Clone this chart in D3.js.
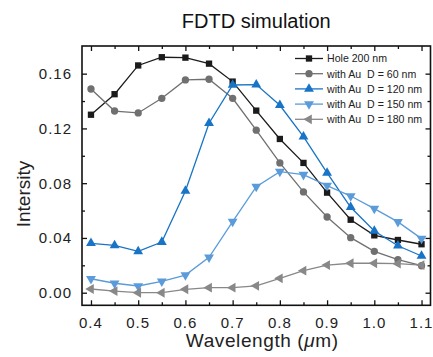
<!DOCTYPE html>
<html>
<head>
<meta charset="utf-8">
<script src="https://cdn.jsdelivr.net/npm/d3@7"></script>
<style>
  html, body { margin: 0; padding: 0; background: #fff; }
  svg { display: block; font-family: "Liberation Sans", Arial, sans-serif; }
</style>
</head>
<body>
<svg id="chart" width="433" height="357"></svg>
<script>
// Wavelength samples (µm)
const wavelengths = [0.40, 0.45, 0.50, 0.55, 0.60, 0.65, 0.70, 0.75, 0.80, 0.85, 0.90, 0.95, 1.00, 1.05, 1.10];

// Simulated intensity for each structure
const hole200 = [0.130, 0.145, 0.166, 0.172, 0.1717, 0.1673, 0.1542, 0.133, 0.1123, 0.0948, 0.0731, 0.0533, 0.0419, 0.0385, 0.0354];
const au60    = [0.1488, 0.1327, 0.1313, 0.142, 0.1554, 0.1559, 0.142, 0.1187, 0.0948, 0.0736, 0.0553, 0.0402, 0.0302, 0.0241, 0.0197];
const au120   = [0.0361, 0.0346, 0.0302, 0.037, 0.0743, 0.1238, 0.1517, 0.152, 0.1369, 0.114, 0.0875, 0.0624, 0.0451, 0.0343, 0.0268];
const au150   = [0.0102, 0.0069, 0.0049, 0.0083, 0.0129, 0.0259, 0.0519, 0.0775, 0.0884, 0.0862, 0.0782, 0.0706, 0.0614, 0.0517, 0.0395];
const au180   = [0.0027, 0.0012, 0.0, 0.0, 0.0025, 0.0037, 0.0037, 0.005, 0.0105, 0.0161, 0.0202, 0.0215, 0.0215, 0.0212, 0.0202];

const seriesNames = ["Hole 200 nm", "with Au  D = 60 nm", "with Au  D = 120 nm", "with Au  D = 150 nm", "with Au  D = 180 nm"];

const xTicks = [0.4, 0.5, 0.6, 0.7, 0.8, 0.9, 1.0, 1.1];
const xMinor = [0.45, 0.55, 0.65, 0.75, 0.85, 0.95, 1.05];
const yTicks = [0.00, 0.04, 0.08, 0.12, 0.16];
const yMinor = [0.02, 0.06, 0.10, 0.14];

const series = [
  { name: seriesNames[0], values: hole200, color: "#1b1b1b", symbol: d3.symbolSquare,   size: 40, rotate: 0 },
  { name: seriesNames[1], values: au60,    color: "#707070", symbol: d3.symbolCircle,   size: 42, rotate: 0 },
  { name: seriesNames[2], values: au120,   color: "#1874c6", symbol: d3.symbolTriangle, size: 42, rotate: 0 },
  { name: seriesNames[3], values: au150,   color: "#5b9bd9", symbol: d3.symbolTriangle, size: 42, rotate: 180 },
  { name: seriesNames[4], values: au180,   color: "#888888", symbol: d3.symbolTriangle, size: 42, rotate: -90 }
];

const svg = d3.select("#chart");
const plot = { left: 82, right: 430.5, top: 46, bottom: 305.3 };

const x = d3.scaleLinear().domain([0.381, 1.119]).range([plot.left, plot.right]);
const y = d3.scaleLinear().domain([-0.0092, 0.1802]).range([plot.bottom, plot.top]);

// Title
svg.append("text")
  .attr("x", (plot.left + plot.right) / 2)
  .attr("y", 28)
  .attr("text-anchor", "middle")
  .attr("font-size", 20)
  .attr("fill", "#111")
  .text("FDTD simulation");

// Inward ticks on all four sides
const tickSize = 5, minorSize = 3;

function styleAxis(g) {
  g.select(".domain").remove();
  g.selectAll("line").attr("stroke", "#111").attr("stroke-width", 1.3);
}

svg.append("g").attr("transform", `translate(0,${plot.bottom})`)
  .call(d3.axisTop(x).tickValues(xTicks).tickSize(tickSize).tickFormat(""))
  .call(styleAxis);
svg.append("g").attr("transform", `translate(0,${plot.bottom})`)
  .call(d3.axisTop(x).tickValues(xMinor).tickSize(minorSize).tickFormat(""))
  .call(styleAxis);
svg.append("g").attr("transform", `translate(0,${plot.top})`)
  .call(d3.axisBottom(x).tickValues(xTicks).tickSize(tickSize).tickFormat(""))
  .call(styleAxis);
svg.append("g").attr("transform", `translate(0,${plot.top})`)
  .call(d3.axisBottom(x).tickValues(xMinor).tickSize(minorSize).tickFormat(""))
  .call(styleAxis);
svg.append("g").attr("transform", `translate(${plot.left},0)`)
  .call(d3.axisRight(y).tickValues(yTicks).tickSize(tickSize).tickFormat(""))
  .call(styleAxis);
svg.append("g").attr("transform", `translate(${plot.left},0)`)
  .call(d3.axisRight(y).tickValues(yMinor).tickSize(minorSize).tickFormat(""))
  .call(styleAxis);
svg.append("g").attr("transform", `translate(${plot.right},0)`)
  .call(d3.axisLeft(y).tickValues(yTicks).tickSize(tickSize).tickFormat(""))
  .call(styleAxis);
svg.append("g").attr("transform", `translate(${plot.right},0)`)
  .call(d3.axisLeft(y).tickValues(yMinor).tickSize(minorSize).tickFormat(""))
  .call(styleAxis);

// Tick labels
svg.append("g").selectAll("text").data(xTicks).join("text")
  .attr("x", d => x(d))
  .attr("y", 328)
  .attr("text-anchor", "middle")
  .attr("font-size", 15)
  .attr("letter-spacing", 1)
  .attr("fill", "#222")
  .text(d => d3.format(".1f")(d));

svg.append("g").selectAll("text").data(yTicks).join("text")
  .attr("x", 72)
  .attr("y", d => y(d))
  .attr("dy", "0.36em")
  .attr("text-anchor", "end")
  .attr("font-size", 15)
  .attr("letter-spacing", 1)
  .attr("fill", "#222")
  .text(d => d3.format(".2f")(d));

// Axis titles
const xTitle = svg.append("text")
  .attr("x", (plot.left + plot.right) / 2 + 6)
  .attr("y", 347)
  .attr("text-anchor", "middle")
  .attr("font-size", 19)
  .attr("letter-spacing", 0.6)
  .attr("fill", "#222");
xTitle.append("tspan").text("Wavelength (");
xTitle.append("tspan").attr("font-style", "italic").text("μ");
xTitle.append("tspan").text("m)");

svg.append("text")
  .attr("transform", "translate(30,194) rotate(-90)")
  .attr("text-anchor", "middle")
  .attr("font-size", 19)
  .attr("fill", "#222")
  .text("Intersity");

// Series lines and markers
const line = d3.line().x((d, i) => x(wavelengths[i])).y(d => y(d));

series.forEach(s => {
  const g = svg.append("g");
  g.append("path")
    .datum(s.values)
    .attr("fill", "none")
    .attr("stroke", s.color)
    .attr("stroke-width", 1.3)
    .attr("d", line);
  g.selectAll("path.pt").data(s.values).join("path")
    .attr("class", "pt")
    .attr("transform", (d, i) => `translate(${x(wavelengths[i])},${y(d)}) rotate(${s.rotate})`)
    .attr("d", d3.symbol().type(s.symbol).size(s.size))
    .attr("fill", s.color);
});

// Plot frame
svg.append("rect")
  .attr("x", plot.left).attr("y", plot.top)
  .attr("width", plot.right - plot.left).attr("height", plot.bottom - plot.top)
  .attr("fill", "none").attr("stroke", "#111").attr("stroke-width", 1.6);

// Legend
const legend = svg.append("g");
const legY0 = 58.5, legStep = 15.2;
series.forEach((s, i) => {
  const gy = legY0 + i * legStep;
  const row = legend.append("g").attr("transform", `translate(0,${gy})`);
  row.append("line").attr("x1", 295).attr("x2", 323).attr("y1", 0).attr("y2", 0)
    .attr("stroke", s.color).attr("stroke-width", 1.3);
  row.append("path")
    .attr("transform", `translate(309,0) rotate(${s.rotate})`)
    .attr("d", d3.symbol().type(s.symbol).size(s.size))
    .attr("fill", s.color);
  row.append("text")
    .attr("x", 327).attr("y", 0).attr("dy", "0.36em")
    .attr("font-size", 10.6)
    .attr("fill", "#222")
    .style("white-space", "pre")
    .attr("xml:space", "preserve")
    .text(s.name);
});
</script>
</body>
</html>
